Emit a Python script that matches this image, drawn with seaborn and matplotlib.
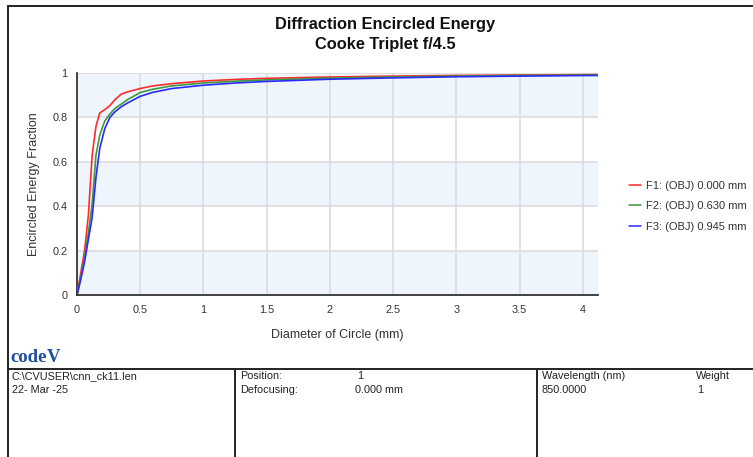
import matplotlib
matplotlib.use("Agg")
import matplotlib.pyplot as plt
import pandas as pd
import seaborn as sns
from matplotlib.lines import Line2D

sns.set_theme(style="white")
plt.rcParams["font.family"] = ["Liberation Sans", "DejaVu Sans"]

# Encircled energy vs. circle diameter for three field points
diameter = [0, 0.03, 0.06, 0.09, 0.12, 0.15, 0.18, 0.22, 0.26, 0.30, 0.35, 0.40,
            0.50, 0.60, 0.75, 1.0, 1.25, 1.5, 2.0, 2.5, 3.0, 3.5, 4.12]
f1_energy = [0, 0.10, 0.20, 0.36, 0.63, 0.76, 0.82, 0.835, 0.853, 0.88, 0.905, 0.915,
             0.93, 0.942, 0.952, 0.964, 0.971, 0.976, 0.982, 0.986, 0.989, 0.991, 0.993]
f2_energy = [0, 0.08, 0.17, 0.28, 0.41, 0.63, 0.72, 0.785, 0.815, 0.84, 0.86, 0.88,
             0.912, 0.927, 0.942, 0.955, 0.963, 0.969, 0.977, 0.982, 0.986, 0.989, 0.991]
f3_energy = [0, 0.07, 0.15, 0.25, 0.35, 0.53, 0.66, 0.75, 0.80, 0.825, 0.848, 0.865,
             0.895, 0.913, 0.93, 0.945, 0.955, 0.962, 0.972, 0.978, 0.983, 0.986, 0.989]
field_labels = ["F1: (OBJ) 0.000 mm", "F2: (OBJ) 0.630 mm", "F3: (OBJ) 0.945 mm"]
field_colors = ["#ff2a2a", "#3c9a3c", "#2a2aff"]

x_ticks = [0, 0.5, 1, 1.5, 2, 2.5, 3, 3.5, 4]
x_tick_labels = ["0", "0.5", "1", "1.5", "2", "2.5", "3", "3.5", "4"]
y_ticks = [0, 0.2, 0.4, 0.6, 0.8, 1.0]
y_tick_labels = ["0", "0.2", "0.4", "0.6", "0.8", "1"]

frames = []
for label, energy in zip(field_labels, [f1_energy, f2_energy, f3_energy]):
    frames.append(pd.DataFrame({"diameter": diameter, "energy": energy, "field": label}))
df = pd.concat(frames, ignore_index=True)

fig = plt.figure(figsize=(7.53, 4.57), dpi=100)
W, H = 753, 457

def px(x0, y0, x1, y1):
    return [x0 / W, 1 - y1 / H, (x1 - x0) / W, (y1 - y0) / H]

ax = fig.add_axes(px(77, 73, 598, 295))

# Alternating horizontal bands and grid
for lo in [0.0, 0.4, 0.8]:
    ax.axhspan(lo, lo + 0.2, color="#eef5fd", zorder=0, lw=0)
for xt in x_ticks[1:]:
    ax.axvline(xt, color="#dcdcdc", lw=1.2, zorder=1)
for yt in y_ticks[1:]:
    ax.axhline(yt, color="#dcdcdc", lw=1.2, zorder=1)

sns.lineplot(data=df, x="diameter", y="energy", hue="field", hue_order=field_labels,
             palette=dict(zip(field_labels, field_colors)), sort=False,
             linewidth=1.2, legend=False, ax=ax, zorder=3)

ax.set_xlim(0, 4.12)
ax.set_ylim(0, 1)
ax.set_xticks(x_ticks)
ax.set_xticklabels(x_tick_labels)
ax.set_yticks(y_ticks)
ax.set_yticklabels(y_tick_labels)
ax.tick_params(axis="both", labelsize=7.8, colors="#333333", length=4, width=1,
               direction="out", pad=3)
ax.tick_params(axis="both", color="#222222")
for side in ["top", "right"]:
    ax.spines[side].set_visible(False)
for side in ["left", "bottom"]:
    ax.spines[side].set_color("#222222")
    ax.spines[side].set_linewidth(1.2)

ax.set_xlabel("Diameter of Circle (mm)", fontsize=9, color="#333333", labelpad=10)
ax.set_ylabel("Encircled Energy Fraction", fontsize=9, color="#333333", labelpad=9)

handles = [Line2D([0], [0], color=c, lw=1.1) for c in field_colors]
ax.legend(handles, field_labels, loc="center left", bbox_to_anchor=(1.04, 0.40),
          frameon=False, fontsize=8, handlelength=1.1, handletextpad=0.4,
          labelspacing=0.95, labelcolor="#333333")

# Title
fig.text(385 / W, 1 - 24 / H, "Diffraction Encircled Energy", ha="center", va="center",
         fontsize=11.8, fontweight="bold", color="#111111")
fig.text(385 / W, 1 - 44 / H, "Cooke Triplet f/4.5", ha="center", va="center",
         fontsize=11.8, fontweight="bold", color="#111111")

# Outer frame and footer table
frame_kw = dict(color="#222222", lw=1.4, transform=fig.transFigure)
fig.add_artist(Line2D([8 / W, 8 / W], [0, 1 - 6 / H], **frame_kw))
fig.add_artist(Line2D([8 / W, 1], [1 - 6 / H, 1 - 6 / H], **frame_kw))
fig.add_artist(Line2D([8 / W, 1], [1 - 369 / H, 1 - 369 / H], **frame_kw))
fig.add_artist(Line2D([235 / W, 235 / W], [0, 1 - 369 / H], **frame_kw))
fig.add_artist(Line2D([537 / W, 537 / W], [0, 1 - 369 / H], **frame_kw))

logo_font = ["Liberation Serif", "DejaVu Serif"]
fig.text(10 / W, 1 - 357 / H, "code", ha="left", va="center", fontsize=13.5,
         fontweight="bold", color="#1d4f9c", family=logo_font)
fig.text(47 / W, 1 - 357 / H, "V", ha="left", va="center", fontsize=13.5,
         fontweight="bold", color="#1d4f9c", family=logo_font)

foot = dict(fontsize=7.8, color="#222222", va="center", ha="left")
fig.text(12 / W, 1 - 376 / H, "C:\\CVUSER\\cnn_ck11.len", **foot)
fig.text(12 / W, 1 - 390 / H, "22- Mar -25", **foot)
fig.text(240 / W, 1 - 376 / H, "Position:", **foot)
fig.text(357 / W, 1 - 376 / H, "1", **foot)
fig.text(240 / W, 1 - 390 / H, "Defocusing:", **foot)
fig.text(355 / W, 1 - 390 / H, "0.000 mm", **foot)
fig.text(542 / W, 1 - 376 / H, "Wavelength (nm)", **foot)
fig.text(696 / W, 1 - 376 / H, "Weight", **foot)
fig.text(542 / W, 1 - 390 / H, "850.0000", **foot)
fig.text(697 / W, 1 - 390 / H, "1", **foot)

fig.savefig("out.png", dpi=100)
